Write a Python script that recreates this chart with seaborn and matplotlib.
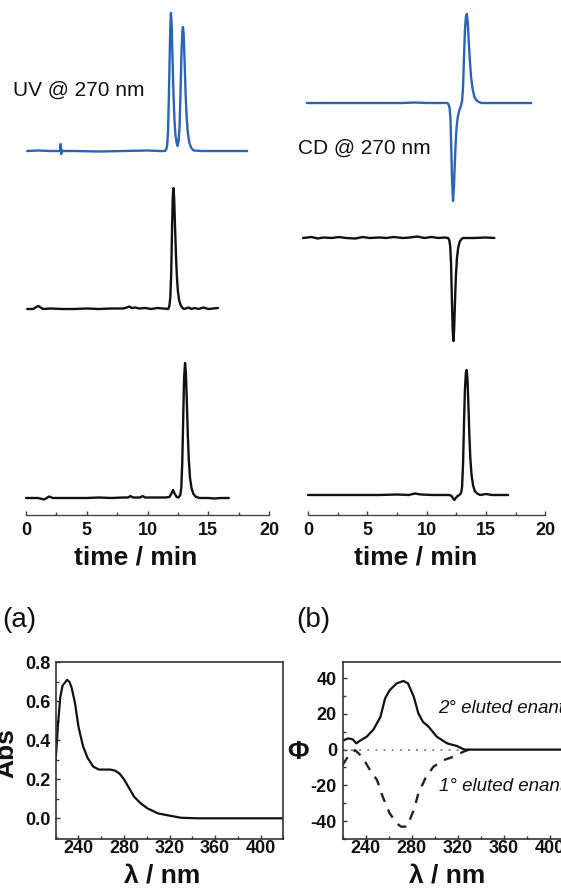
import matplotlib
matplotlib.use("Agg")
import matplotlib.pyplot as plt
from matplotlib.ticker import MultipleLocator
import numpy as np
import pandas as pd
import seaborn as sns

sns.set_style("ticks")
plt.rcParams["font.family"] = ["Liberation Sans", "DejaVu Sans"]
plt.rcParams["mathtext.fontset"] = "dejavusans"
plt.rcParams["axes.unicode_minus"] = False

W, H = 561, 888
BLUE = "#2a64b8"
INK = "#111111"

# ---------------- chromatograms: UV detector (time / min, signal) ----------------
uv_mix_t = [0.1, 1.0, 2.0, 2.8, 2.85, 2.9, 2.95, 3.0, 4.0, 6.0, 8.0, 10.0, 11.0, 11.45,
            11.55, 11.62, 11.69, 11.76, 11.82, 11.88, 11.93, 11.99, 12.06, 12.14, 12.22,
            12.3, 12.4, 12.48, 12.56, 12.64, 12.72, 12.8, 12.87, 12.92, 12.98, 13.06,
            13.14, 13.22, 13.32, 13.45, 13.6, 13.8, 14.5, 16.0, 18.2]
uv_mix_v = [0, 0.5, 0, 0, 7, -3, 1, 0, 0, -0.5, 0, 0.5, 0, 0,
            2, 6, 20, 55, 92, 125, 138, 126, 92, 56, 31,
            16, 8, 5, 10, 25, 60, 100, 120, 124, 116, 86,
            56, 34, 18, 8, 3, 0.5, 0, 0, 0]

uv_first_t = [0.1, 0.6, 0.85, 1.0, 1.15, 1.4, 2.0, 3.0, 4.0, 5.0, 6.0, 7.0, 8.0, 8.3,
              8.5, 8.7, 9.0, 9.3, 9.8, 10.3, 10.8, 11.3, 11.7, 11.8, 11.88, 11.95, 12.02,
              12.08, 12.13, 12.19, 12.26, 12.34, 12.42, 12.5, 12.6, 12.72, 12.85, 13.0,
              13.4, 13.6, 13.9, 14.2, 14.6, 15.0, 15.4, 15.8]
uv_first_v = [0, 0, 2, 3, 2, 0, 0.5, 0, 0, 0.5, 0, 0.5, 0.5, 1.5,
              2.5, 1, 1.5, 0.5, 1, 0, 1, 0.5, 0, 3, 12, 35, 80,
              112, 121, 112, 85, 55, 32, 18, 9, 4, 1.5, 0,
              1.5, 0, 1, 0, 1.5, 0, 0.5, 1]

uv_second_t = [0.0, 1.0, 1.5, 1.9, 2.2, 3.0, 5.0, 6.0, 7.0, 8.0, 8.4, 8.6, 8.8, 9.4,
               9.6, 9.8, 10.5, 11.5, 11.8, 11.95, 12.1, 12.25, 12.4, 12.55, 12.7, 12.78,
               12.86, 12.94, 13.01, 13.09, 13.16, 13.24, 13.32, 13.4, 13.5, 13.62, 13.78,
               14.0, 14.3, 15.0, 15.5, 16.0, 16.7]
uv_second_v = [0, 0, -1.5, 1.5, 0, 0, 0, 0.5, 0, 0.5, 0.5, 2, 0.5, 0.5,
               2, 0.5, 0.5, 0.5, 1, 4, 8, 4, 1, 0.5, 3, 10,
               35, 80, 120, 135, 125, 95, 62, 38, 20, 10, 4,
               1, 0, 0, -0.5, 0, 0]

# ---------------- chromatograms: CD detector ----------------
cd_mix_t = [-0.1, 2, 4, 6, 8, 9.0, 10, 11, 11.7, 11.83, 11.93, 12.0, 12.06, 12.13,
            12.22, 12.3, 12.37, 12.44, 12.52, 12.62, 12.73, 12.88, 12.98, 13.06, 13.14,
            13.22, 13.3, 13.38, 13.46, 13.55, 13.64, 13.74, 13.87, 14.02, 14.2, 14.4,
            14.6, 16, 17, 18.8]
cd_mix_v = [0, 0, 0, 0, 0, 0.5, 0, 0, 0, -1, -5, -15, -40, -75,
            -98, -82, -60, -40, -24, -14, -8, -3, 2, 15, 45,
            72, 86, 89, 80, 60, 42, 26, 14, 6, 2.5, 1,
            0, 0, 0, 0]

cd_first_t = [-0.42, 0.3, 0.8, 1.3, 2.0, 2.6, 3.2, 4.0, 4.6, 5.2, 6.0, 6.6, 7.2, 8.0,
              8.6, 9.2, 9.8, 10.4, 11.0, 11.5, 11.8, 11.9, 11.98, 12.05, 12.12, 12.19,
              12.25, 12.31, 12.38, 12.46, 12.55, 12.65, 12.77, 12.9, 13.05, 14.0, 15.0,
              15.7]
cd_first_v = [0, 1, -0.5, 0.5, 0, 1, 0, -0.5, 1, 0, 0.5, 0, 1, 0,
              0.5, 1.5, 0, 1, 0, 0.5, 0, -2, -8, -25, -60, -92,
              -103, -92, -65, -38, -20, -10, -4, -1.5, 0, 0, 0.5,
              0]

cd_second_t = [0.0, 2, 4, 6, 7.5, 8.5, 9.0, 9.5, 10.5, 11.5, 11.9, 12.1, 12.2, 12.33,
               12.45, 12.6, 12.75, 12.9, 12.98, 13.06, 13.14, 13.22, 13.3, 13.37, 13.44,
               13.52, 13.6, 13.68, 13.78, 13.9, 14.05, 14.25, 14.5, 15.0, 15.5, 16.0,
               16.86]
cd_second_v = [0, 0, 0, 0, 0.5, 0, 1.5, 0.5, 0, 0, 0, -1, -3, -5,
               -3, -1, 0, 2, 8, 30, 70, 105, 122, 125, 115,
               88, 58, 36, 20, 10, 4, 1.5, 0, 1, 0, 0,
               0]

# vertical stacking of the three runs in each column (signal units)
uv_offsets = [364, 206, 17]
cd_offsets = [412, 277, 20]
time_ticks = [0, 5, 10, 15, 20]

# ---------------- (a) absorption spectrum ----------------
abs_wl = [220, 222, 224, 226, 228, 230, 232, 234, 237, 240, 244, 248, 253, 258, 263,
          268, 272, 276, 280, 284, 289, 295, 301, 310, 319, 330, 345, 360, 380, 400, 420]
abs_val = [0.30, 0.48, 0.62, 0.68, 0.695, 0.71, 0.70, 0.67, 0.59, 0.47, 0.37, 0.31,
           0.265, 0.25, 0.25, 0.25, 0.245, 0.23, 0.20, 0.16, 0.11, 0.075, 0.05, 0.025,
           0.015, 0.003, 0.0, 0.0, 0.0, 0.0, 0.0]

# ---------------- (b) CD spectra of the two enantiomers ----------------
cd2_wl = [220, 225, 229, 232, 235, 241, 247, 253, 257, 261, 267, 273, 277, 282, 286,
          290, 295, 302, 311, 319, 326, 331, 340, 360, 380, 400, 420]
cd2_val = [4.9, 6.3, 5.7, 3.5, 4.9, 7.2, 11.3, 18.3, 28.6, 33.2, 37.0, 38.4, 37.0,
           29.5, 20.2, 15.5, 12.7, 7.2, 3.5, 2.1, 0.0, 0.0, 0.0, 0.0, 0.0, 0.0, 0.0]

cd1_wl = [220, 225, 231, 237, 244, 250, 255, 261, 267, 271, 276, 282, 286, 292, 299,
          308, 318, 325, 330]
cd1_val = [-8.7, -3.6, -0.3, -4.0, -11.5, -17.0, -26.4, -35.6, -41.2, -43.1, -43.1,
           -33.8, -24.5, -16.1, -9.6, -5.9, -3.6, -1.2, 0.0]

base_wl = [220, 330]
base_val = [0.0, 0.0]

wl_ticks = [240, 280, 320, 360, 400]

fig = plt.figure(figsize=(W / 100, H / 100), dpi=100)


def box(left, top, right, bottom):
    return [left / W, 1 - bottom / H, (right - left) / W, (bottom - top) / H]


def style_time_axis(ax, label_x):
    ax.set_xlim(-0.6, 20.6)
    ax.set_ylim(0, 515)
    for s in ("left", "right", "top"):
        ax.spines[s].set_visible(False)
    ax.spines["bottom"].set_bounds(0, 20)
    ax.spines["bottom"].set_color("#444444")
    ax.spines["bottom"].set_linewidth(1.0)
    ax.set_yticks([])
    ax.set_xticks(time_ticks)
    ax.xaxis.set_minor_locator(MultipleLocator(2.5))
    ax.tick_params(axis="x", which="major", direction="in", length=3, width=1,
                   color="#444444", pad=5, labelsize=13, labelcolor=INK)
    ax.tick_params(axis="x", which="minor", direction="in", length=2, width=1,
                   color="#444444")
    for lab in ax.get_xticklabels():
        lab.set_fontweight("bold")
    ax.set_xlabel("time / min", fontsize=19, fontweight="bold", color=INK)
    ax.xaxis.set_label_coords(label_x, -0.082)
    ax.xaxis.label.set_va("center")
    ax.set_ylabel("")
    ax.patch.set_alpha(0)


def trace(ax, t, v, offset, color, **kw):
    df = pd.DataFrame({"time": t, "signal": np.asarray(v, float) + offset})
    sns.lineplot(data=df, x="time", y="signal", ax=ax, color=color, lw=1.7,
                 estimator=None, sort=False, clip_on=False, **kw)


# left column: UV-detected runs
ax_uv = fig.add_axes(box(18.7, 0, 276.3, 515))
trace(ax_uv, uv_mix_t, uv_mix_v, uv_offsets[0], BLUE)
trace(ax_uv, uv_first_t, uv_first_v, uv_offsets[1], INK)
trace(ax_uv, uv_second_t, uv_second_v, uv_offsets[2], INK)
style_time_axis(ax_uv, 0.454)

# right column: CD-detected runs
ax_cd = fig.add_axes(box(300.9, 0, 552.5, 515))
trace(ax_cd, cd_mix_t, cd_mix_v, cd_offsets[0], BLUE)
trace(ax_cd, cd_first_t, cd_first_v, cd_offsets[1], INK)
trace(ax_cd, cd_second_t, cd_second_v, cd_offsets[2], INK)
style_time_axis(ax_cd, 0.4575)

fig.text(13 / W, 1 - 90 / H, "UV @ 270 nm", fontsize=15, color=INK, va="center", ha="left")
fig.text(298 / W, 1 - 148 / H, "CD @ 270 nm", fontsize=15, color=INK, va="center", ha="left")


def style_spec_axis(ax, label_x):
    ax.set_xlim(220, 420)
    ax.set_xticks(wl_ticks)
    ax.xaxis.set_minor_locator(MultipleLocator(20))
    for s in ax.spines.values():
        s.set_color("#333333")
        s.set_linewidth(1.2)
    ax.tick_params(which="major", direction="in", length=3, width=1, color="#333333",
                   labelsize=13, labelcolor=INK)
    ax.tick_params(which="minor", direction="in", length=2, width=1, color="#333333")
    ax.tick_params(axis="x", which="major", pad=1)
    ax.tick_params(axis="y", which="major", pad=4)
    for lab in ax.get_xticklabels() + ax.get_yticklabels():
        lab.set_fontweight("bold")
    ax.set_xlabel("λ / nm", fontsize=19, fontweight="bold", color=INK)
    ax.xaxis.set_label_coords(label_x, -0.209)
    ax.xaxis.label.set_va("center")
    ax.set_ylabel("")
    ax.patch.set_alpha(0)


# (a) absorption
ax_a = fig.add_axes(box(55.7, 662.3, 283.3, 839))
sns.lineplot(x=abs_wl, y=abs_val, ax=ax_a, color=INK, lw=1.6, estimator=None)
ax_a.set_ylim(-0.106, 0.8)
ax_a.set_yticks([0.0, 0.2, 0.4, 0.6, 0.8])
ax_a.set_yticklabels(["0.0", "0.2", "0.4", "0.6", "0.8"])
ax_a.yaxis.set_minor_locator(MultipleLocator(0.1))
style_spec_axis(ax_a, 0.466)

# (b) circular dichroism
ax_b = fig.add_axes(box(342.5, 662, 572.5, 839))
sns.lineplot(x=base_wl, y=base_val, ax=ax_b, color="#777777", lw=1.3,
             estimator=None, linestyle=(0, (1, 3.5)))
sns.lineplot(x=cd1_wl, y=cd1_val, ax=ax_b, color="#222222", lw=1.7,
             estimator=None, linestyle=(0, (4, 3.5)))
sns.lineplot(x=cd2_wl, y=cd2_val, ax=ax_b, color=INK, lw=1.6, estimator=None)
ax_b.set_ylim(-50, 49)
ax_b.set_yticks([-40, -20, 0, 20, 40])
ax_b.yaxis.set_minor_locator(MultipleLocator(10))
style_spec_axis(ax_b, 0.453)
ax_b.text(0.415, 0.735, "2° eluted enantiomer", transform=ax_b.transAxes,
          fontsize=13.5, style="italic", color=INK, va="center", ha="left")
ax_b.text(0.42, 0.296, "1° eluted enantiomer", transform=ax_b.transAxes,
          fontsize=13.5, style="italic", color=INK, va="center", ha="left")

fig.text(18 / W, 1 - 753 / H, "Abs", fontsize=19, fontweight="bold", rotation=90,
         color=INK, va="center", ha="right")
fig.text(298.5 / W, 1 - 751.7 / H, "Φ", fontsize=19, fontweight="bold",
         color=INK, va="center", ha="center")
fig.text(19.5 / W, 1 - 620 / H, "(a)", fontsize=20, color=INK, va="center", ha="center")
fig.text(313 / W, 1 - 620 / H, "(b)", fontsize=20, color=INK, va="center", ha="center")

fig.savefig("out.png", dpi=100, facecolor="white")
